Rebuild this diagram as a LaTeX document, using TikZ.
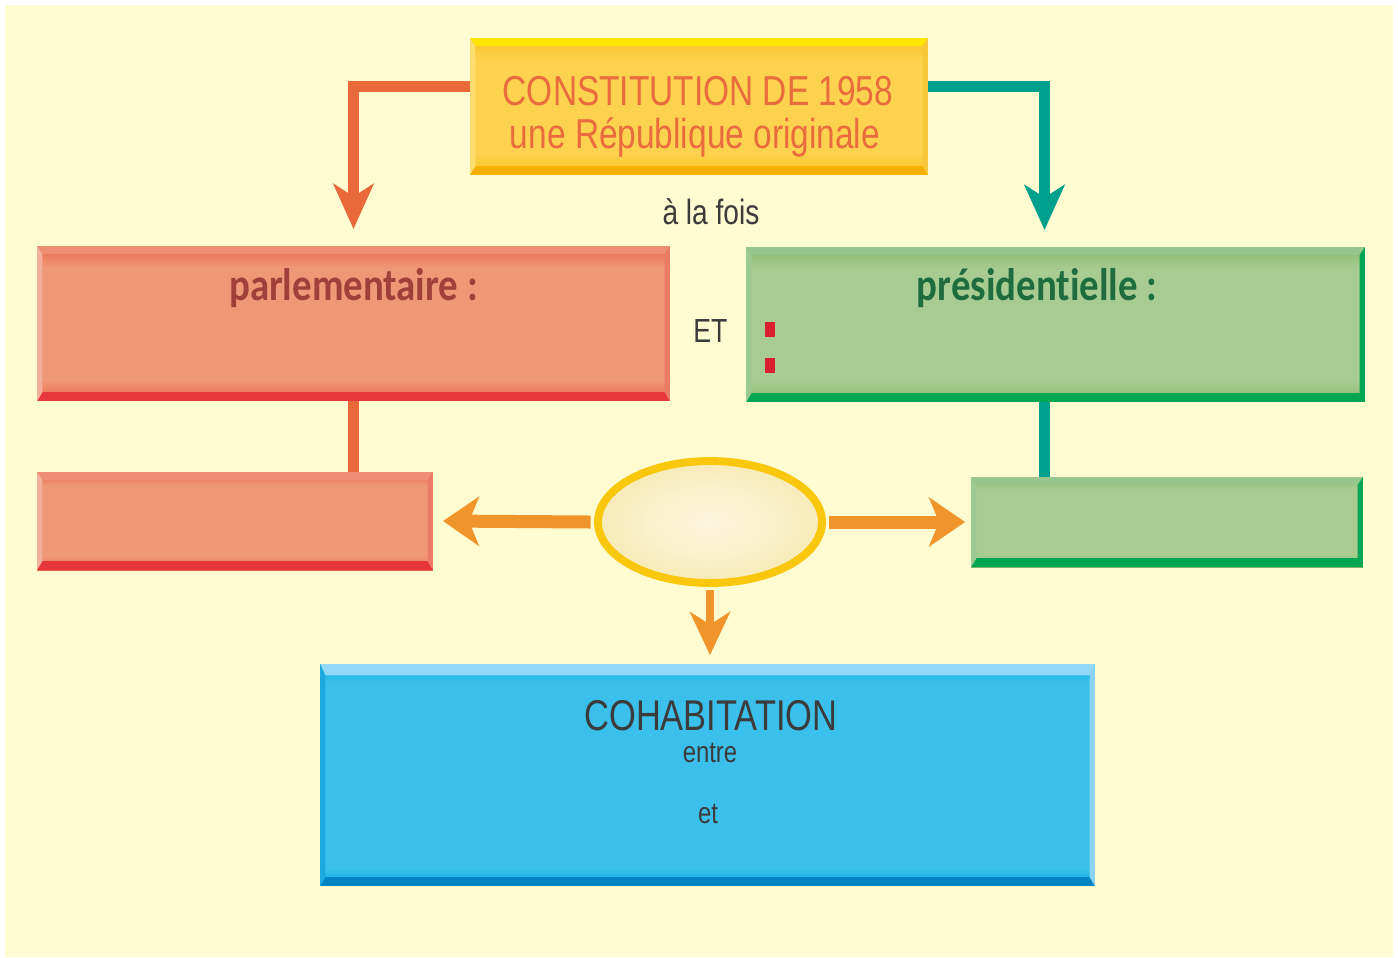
\documentclass[tikz,border=0pt]{standalone}
\usepackage{fontspec}
\usepackage{tikz}
\usetikzlibrary{positioning,arrows.meta,shapes.geometric,calc}

\newfontfamily\narrowsans[FakeStretch=0.80]{Liberation Sans}
\newfontfamily\titlesans[FakeStretch=0.85, Ligatures=NoCommon]{Carlito}

\definecolor{bgyellow}{HTML}{FFFCD2}
\definecolor{constTop}{HTML}{FFE500}
\definecolor{constBot}{HTML}{F6B100}
\definecolor{constLeft}{HTML}{FCDD70}
\definecolor{constRight}{HTML}{F9C83A}
\definecolor{constEdge}{HTML}{F9C21E}
\definecolor{constMid}{HTML}{FCD24E}
\definecolor{constText}{HTML}{EA6B3D}
\definecolor{parlTop}{HTML}{EE8F73}
\definecolor{parlBot}{HTML}{E8363D}
\definecolor{parlLeft}{HTML}{F2B09C}
\definecolor{parlRight}{HTML}{EB7A66}
\definecolor{parlEdge}{HTML}{E96B4C}
\definecolor{parlMid}{HTML}{EF9878}
\definecolor{parlText}{HTML}{A1403B}
\definecolor{presTop}{HTML}{98C58C}
\definecolor{presBot}{HTML}{00A651}
\definecolor{presLeft}{HTML}{9BCB93}
\definecolor{presRight}{HTML}{00A651}
\definecolor{presEdge}{HTML}{8BBA6E}
\definecolor{presMid}{HTML}{A8CB91}
\definecolor{presText}{HTML}{1F6D3E}
\definecolor{cohabTop}{HTML}{91D9F6}
\definecolor{cohabBot}{HTML}{0083C1}
\definecolor{cohabLeft}{HTML}{1BA9DE}
\definecolor{cohabRight}{HTML}{8AD3F2}
\definecolor{cohabEdge}{HTML}{00B0E5}
\definecolor{cohabMid}{HTML}{3BC0EB}
\definecolor{ovalBorder}{HTML}{F9C70C}
\definecolor{ovalIn}{HTML}{FCF6E0}
\definecolor{ovalOut}{HTML}{F8EBB8}
\definecolor{sideOrange}{HTML}{F0952B}
\definecolor{topOrange}{HTML}{E9693A}
\definecolor{topTeal}{HTML}{00A08E}
\definecolor{bulletRed}{HTML}{D8202E}
\definecolor{grayText}{HTML}{3B3B3B}

% inner glow: edge colour only near the top and bottom
\pgfdeclareverticalshading{constglow}{100bp}{color(0bp)=(constEdge); color(25bp)=(constEdge);
  color(33bp)=(constMid); color(67bp)=(constMid); color(75bp)=(constEdge); color(100bp)=(constEdge)}
\pgfdeclareverticalshading{parlglow}{100bp}{color(0bp)=(parlEdge); color(25bp)=(parlEdge);
  color(32bp)=(parlMid); color(68bp)=(parlMid); color(75bp)=(parlEdge); color(100bp)=(parlEdge)}
\pgfdeclareverticalshading{presglow}{100bp}{color(0bp)=(presEdge); color(25bp)=(presEdge);
  color(32bp)=(presMid); color(68bp)=(presMid); color(75bp)=(presEdge); color(100bp)=(presEdge)}
\pgfdeclareverticalshading{cohabglow}{100bp}{color(0bp)=(cohabEdge); color(25bp)=(cohabEdge);
  color(29bp)=(cohabMid); color(71bp)=(cohabMid); color(75bp)=(cohabEdge); color(100bp)=(cohabEdge)}

\tikzset{
  box/.style={rectangle, inner sep=0pt, outer sep=0pt},
  % top, bottom, left, right colour, top thickness
  bevel/.style n args={5}{path picture={
      \fill[#1] (path picture bounding box.north west) -- (path picture bounding box.north east)
        -- ([shift={(-3pt,-#5)}]path picture bounding box.north east)
        -- ([shift={(3pt,-#5)}]path picture bounding box.north west) -- cycle;
      \fill[#2] (path picture bounding box.south west) -- (path picture bounding box.south east)
        -- ([shift={(-3pt,5pt)}]path picture bounding box.south east)
        -- ([shift={(3pt,5pt)}]path picture bounding box.south west) -- cycle;
      \fill[#3] (path picture bounding box.north west) -- ([shift={(3pt,-#5)}]path picture bounding box.north west)
        -- ([shift={(3pt,5pt)}]path picture bounding box.south west) -- (path picture bounding box.south west) -- cycle;
      \fill[#4] (path picture bounding box.north east) -- ([shift={(-3pt,-#5)}]path picture bounding box.north east)
        -- ([shift={(-3pt,5pt)}]path picture bounding box.south east) -- (path picture bounding box.south east) -- cycle;
  }},
  constbox/.style={box, shading=constglow, bevel={constTop}{constBot}{constLeft}{constRight}{4.5pt}},
  parlbox/.style={box, shading=parlglow, bevel={parlTop}{parlBot}{parlLeft}{parlRight}{4.5pt}},
  presbox/.style={box, shading=presglow, bevel={presTop}{presBot}{presLeft}{presRight}{4.5pt}},
  cohabbox/.style={box, shading=cohabglow, bevel={cohabTop}{cohabBot}{cohabLeft}{cohabRight}{6.5pt}},
  ovalnode/.style={ellipse, inner sep=0pt, draw=ovalBorder, line width=4.5pt,
    inner color=ovalIn, outer color=ovalOut, minimum width=4.48cm, minimum height=2.44cm},
  bullet/.style={rectangle, fill=bulletRed, inner sep=0pt, minimum width=0.2cm, minimum height=0.3cm},
  toptext/.style={inner sep=0pt, text=constText, font=\narrowsans\fontsize{23.8}{28}\selectfont},
  graytext/.style={inner sep=0pt, text=grayText, font=\narrowsans\fontsize{19}{22}\selectfont},
  smalltext/.style={inner sep=0pt, text=grayText, font=\narrowsans\fontsize{17}{20}\selectfont},
  boxtitle/.style={inner sep=0pt, font=\titlesans\bfseries\fontsize{26}{30}\selectfont},
  toparrow/.style={line width=6.2pt, -{Stealth[length=0.9cm, width=0.8cm, inset=0.25cm]}},
  sidearrow/.style={line width=7.4pt, sideOrange, -{Stealth[length=0.72cm, width=0.98cm, inset=0.2cm]}},
  downarrow/.style={line width=4pt, sideOrange, -{Stealth[length=0.86cm, width=0.8cm, inset=0.25cm]}},
  link/.style={line width=6pt},
}

\begin{document}
\begin{tikzpicture}[x=0.02cm, y=-0.02cm]

    \useasboundingbox (0,0) rectangle (1398,957);
    \fill[bgyellow] (5,5) rectangle (1393,957);

    % boxes
    \node[constbox, minimum width=9.16cm, minimum height=2.74cm] (constitution) at (699,106.5) {};
    \node[parlbox, minimum width=12.66cm, minimum height=3.1cm] (parl) at (353.5,323.5) {};
    \node[presbox, minimum width=12.38cm, minimum height=3.1cm] (pres) at (1055.5,324.5) {};
    \node[parlbox, minimum width=7.92cm, minimum height=1.96cm] (parlsub) at (235,521) {};
    \node[presbox, minimum width=7.84cm, minimum height=1.8cm] (pressub) at (1167,522) {};
    \node[cohabbox, minimum width=15.5cm, minimum height=4.44cm] (cohab) at (707.5,775) {};
    \node[ovalnode] (oval) at (710,522) {};

    % texts
    \node[toptext, anchor=base] (title) at (698,105) {CONSTITUTION DE 1958};
    \node[toptext, anchor=base] (subtitle) at (695,148) {une République originale};
    \node[graytext, anchor=base, font=\narrowsans\fontsize{20}{24}\selectfont] (alafois) at (711,224) {à la fois};
    \node[boxtitle, text=parlText, anchor=base] (parltitle) at (353.5,300) {parlementaire :};
    \node[boxtitle, text=presText, anchor=base] (prestitle) at (1037,300) {présidentielle :};
    \node[graytext] (et) [right=0.46cm of parl, yshift=-0.16cm] {ET};
    \node[toptext, text=grayText, anchor=base, font=\narrowsans\fontsize{24.5}{28}\selectfont] (cohabtitle) at (711,730) {COHABITATION};
    \node[smalltext, anchor=base] (entre) at (710,762) {entre};
    \node[smalltext, anchor=base] (etsmall) at (708,823) {et};

    \foreach \y/\n in {329.5/1, 365.5/2}
        \node[bullet] (bul\n) at (769.5,\y) {};

    % connectors
    \draw[toparrow, topOrange] ([yshift=0.4cm]constitution.west) -| ([yshift=0.34cm]parl.north);
    \draw[toparrow, topTeal] ([yshift=0.4cm]constitution.east) -| ([xshift=-0.22cm,yshift=0.34cm]pres.north);
    \path[link, draw=topOrange] (parl.south) edge (parl.south |- parlsub.north);
    \path[link, draw=topTeal] ([xshift=-0.22cm]pres.south) edge ([xshift=-0.22cm]pres.south |- pressub.north);

    \path[sidearrow] ([xshift=-2pt]oval.west) edge ([xshift=0.2cm]parlsub.east);
    \path[sidearrow] ([xshift=2pt]oval.east) edge ([xshift=-0.12cm]pressub.west);
    \path[downarrow] ([yshift=-2pt]oval.south) edge ($(oval.south |- cohab.north)+(0,-9)$);

\end{tikzpicture}
\end{document}
